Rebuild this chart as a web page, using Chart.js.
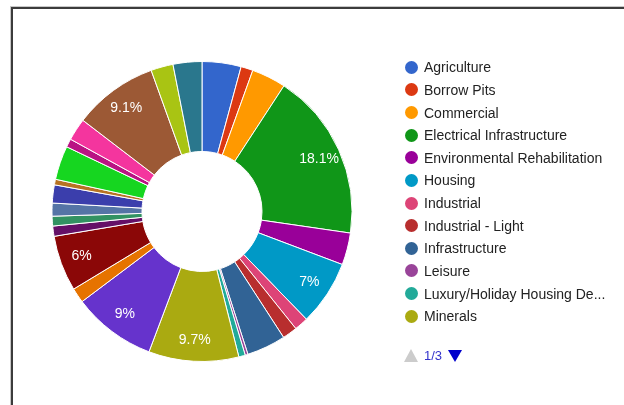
<!DOCTYPE html>
<html>
<head>
<meta charset="utf-8">
<script src="https://cdn.jsdelivr.net/npm/chart.js@4/dist/chart.umd.min.js"></script>
<style>
  html, body { margin: 0; padding: 0; background: #fff; }
  #wrap { position: relative; width: 624px; height: 405px; overflow: hidden; font-family: Arial, "Liberation Sans", sans-serif; }
  #frame { position: absolute; left: 11px; top: 7px; width: 700px; height: 500px;
           border-left: 2px solid #3c3c3c; border-top: 2px solid #3c3c3c; box-shadow: -1px -1px 0 #c8c8c8; }
  #chart-box { position: absolute; left: 0; top: 0; width: 624px; height: 405px; }
  #legend { position: absolute; left: 405px; top: 56px; }
  .leg-item { height: 22.64px; display: flex; align-items: center; font-size: 14px; color: #222; white-space: nowrap; }
  .leg-dot { width: 13px; height: 13px; border-radius: 50%; margin-right: 6px; flex: none; }
  #pager { position: absolute; left: 404px; top: 348px; display: flex; align-items: center; font-size: 13px; color: #3333cc; }
  .tri-up { width: 0; height: 0; border-left: 7px solid transparent; border-right: 7px solid transparent; border-bottom: 13px solid #cccccc; margin-right: 6px; }
  .tri-down { width: 0; height: 0; border-left: 7px solid transparent; border-right: 7px solid transparent; border-top: 12px solid #0000cc; margin-left: 6px; }
</style>
</head>
<body>
<div id="wrap">
  <div id="frame"></div>
  <div id="chart-box"><canvas id="pie"></canvas></div>
  <div id="legend"></div>
  <div id="pager"><div class="tri-up"></div><span>1/3</span><div class="tri-down"></div></div>
</div>
<script>
// ─── Data ─────────────────────────────────────────────────────────────────────

const categories = [
  'Agriculture', 'Borrow Pits', 'Commercial', 'Electrical Infrastructure',
  'Environmental Rehabilitation', 'Housing', 'Industrial', 'Industrial - Light',
  'Infrastructure', 'Leisure', 'Luxury/Holiday Housing Development', 'Minerals',
  'Mining', 'Mixed Use', 'Other', 'Petroleum', 'Pipelines', 'Quarries',
  'Renewable Energy', 'Residential', 'Retail', 'Roads', 'Sewerage',
  'Tourism', 'Transport', 'Water',
];

// share of applications, percent
const shares = [
  4.2, 1.3, 3.7, 18.1, 3.45, 7.0, 1.5, 1.6, 4.2, 0.3, 0.7, 9.7,
  9.0, 1.6, 6.0, 1.1, 1.05, 1.4, 1.95, 0.6, 3.65, 0.9, 2.4, 9.1, 2.4, 3.1,
];

const LEGEND_PAGE = 12;

// Google-style palette (green #66aa00 skipped: empty category)
const COLORS = [
  '#3366cc', '#dc3912', '#ff9900', '#109618', '#990099', '#0099c6', '#dd4477',
  '#b82e2e', '#316395', '#994499', '#22aa99', '#aaaa11', '#6633cc', '#e67300',
  '#8b0707', '#651067', '#329262', '#5574a6', '#3b3eac', '#b77322', '#16d620',
  '#b91383', '#f4359e', '#9c5935', '#a9c413', '#2a778d',
];

// ─── Slice labels ─────────────────────────────────────────────────────────────

const total = shares.reduce((a, b) => a + b, 0);

const sliceLabels = {
  id: 'sliceLabels',
  afterDatasetsDraw(chart) {
    const ctx = chart.ctx;
    const meta = chart.getDatasetMeta(0);
    ctx.save();
    ctx.font = '14px Arial, "Liberation Sans", sans-serif';
    ctx.fillStyle = '#ffffff';
    ctx.textAlign = 'center';
    ctx.textBaseline = 'middle';
    meta.data.forEach((arc, i) => {
      const pct = shares[i] / total * 100;
      if (pct < 5) return;
      const p = arc.getProps(['x', 'y', 'startAngle', 'endAngle', 'innerRadius', 'outerRadius'], true);
      const mid = (p.startAngle + p.endAngle) / 2;
      const r = p.innerRadius + (p.outerRadius - p.innerRadius) * 0.76;
      const txt = (Math.round(pct * 10) / 10) + '%';
      ctx.fillText(txt, p.x + Math.cos(mid) * r, p.y + Math.sin(mid) * r);
    });
    ctx.restore();
  },
};

// ─── Chart ────────────────────────────────────────────────────────────────────

const chart = new Chart(document.getElementById('pie'), {
  type: 'doughnut',
  data: {
    labels: categories,
    datasets: [{
      data: shares,
      backgroundColor: COLORS,
      borderColor: '#ffffff',
      borderWidth: 1,
    }],
  },
  options: {
    responsive: true,
    maintainAspectRatio: false,
    animation: false,
    cutout: '40%',
    layout: { padding: { left: 51, right: 271, top: 61, bottom: 43 } },
    plugins: {
      legend: { display: false },
      tooltip: { enabled: false },
    },
  },
  plugins: [sliceLabels],
});

// ─── Legend (first page) ──────────────────────────────────────────────────────

function truncate(text, maxWidth) {
  const c = document.createElement('canvas').getContext('2d');
  c.font = '14px Arial, "Liberation Sans", sans-serif';
  if (c.measureText(text).width <= maxWidth) return text;
  let s = text;
  while (s.length && c.measureText(s + '...').width > maxWidth) s = s.slice(0, -1);
  return s + '...';
}

const legend = document.getElementById('legend');
categories.slice(0, LEGEND_PAGE).forEach((name, i) => {
  const item = document.createElement('div');
  item.className = 'leg-item';
  item.innerHTML = `<span class="leg-dot" style="background:${COLORS[i]}"></span><span>${truncate(name, 182)}</span>`;
  legend.appendChild(item);
});
</script>
</body>
</html>
